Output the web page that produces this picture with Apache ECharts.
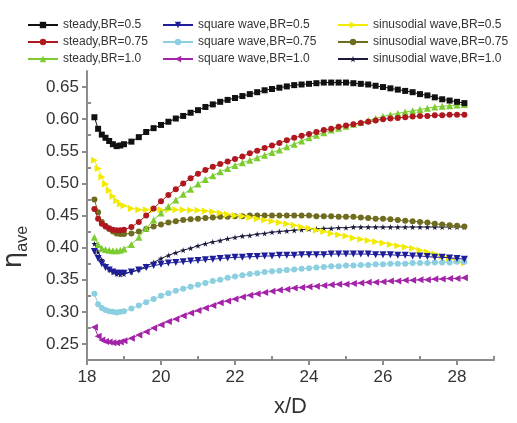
<!DOCTYPE html>
<html>
<head>
<meta charset="utf-8">
<script src="https://cdn.jsdelivr.net/npm/echarts@6/dist/echarts.min.js"></script>
<style>
  html, body { margin: 0; padding: 0; background: #fff; }
  #main { width: 517px; height: 423px; }
</style>
</head>
<body>
<div id="main"></div>
<script>
// x/D positions
var xs = [18.2, 18.3, 18.4, 18.5, 18.6, 18.7, 18.8, 18.9, 19.0,
  19.2, 19.4, 19.6, 19.8, 20.0, 20.2, 20.4, 20.6, 20.8, 21.0,
  21.2, 21.4, 21.6, 21.8, 22.0, 22.2, 22.4, 22.6, 22.8, 23.0,
  23.2, 23.4, 23.6, 23.8, 24.0, 24.2, 24.4, 24.6, 24.8, 25.0,
  25.2, 25.4, 25.6, 25.8, 26.0, 26.2, 26.4, 26.6, 26.8, 27.0,
  27.2, 27.4, 27.6, 27.8, 28.0, 28.2];

var steady05 = [0.603, 0.585, 0.576, 0.571, 0.566, 0.561, 0.558, 0.559, 0.561,
  0.565, 0.572, 0.580, 0.586, 0.591, 0.596, 0.601, 0.605, 0.610, 0.614,
  0.619, 0.623, 0.627, 0.630, 0.633, 0.636, 0.639, 0.642, 0.645, 0.647,
  0.649, 0.651, 0.653, 0.654, 0.655, 0.656, 0.657, 0.657, 0.657, 0.657,
  0.656, 0.655, 0.654, 0.652, 0.650, 0.648, 0.646, 0.644, 0.642, 0.639,
  0.637, 0.634, 0.631, 0.629, 0.627, 0.625];
var steady075 = [0.460, 0.445, 0.437, 0.433, 0.430, 0.428, 0.427, 0.427, 0.428,
  0.432, 0.440, 0.450, 0.461, 0.472, 0.482, 0.491, 0.500, 0.508, 0.515,
  0.521, 0.526, 0.530, 0.534, 0.538, 0.542, 0.547, 0.551, 0.555, 0.559,
  0.563, 0.567, 0.571, 0.574, 0.577, 0.580, 0.583, 0.585, 0.588, 0.590,
  0.592, 0.594, 0.596, 0.598, 0.600, 0.601, 0.602, 0.603, 0.604, 0.605,
  0.605, 0.606, 0.606, 0.607, 0.607, 0.607];
var steady10 = [0.416, 0.405, 0.399, 0.397, 0.396, 0.395, 0.395, 0.396, 0.398,
  0.405, 0.416, 0.430, 0.443, 0.454, 0.464, 0.474, 0.483, 0.491, 0.499,
  0.506, 0.512, 0.518, 0.523, 0.528, 0.532, 0.536, 0.540, 0.544, 0.548,
  0.552, 0.557, 0.561, 0.566, 0.571, 0.575, 0.579, 0.583, 0.586, 0.589,
  0.592, 0.595, 0.598, 0.601, 0.604, 0.607, 0.609, 0.611, 0.613, 0.615,
  0.617, 0.619, 0.620, 0.621, 0.622, 0.623];
var square05 = [0.394, 0.383, 0.375, 0.369, 0.365, 0.362, 0.360, 0.360, 0.360,
  0.362, 0.365, 0.369, 0.372, 0.374, 0.376, 0.377, 0.378, 0.379, 0.380,
  0.381, 0.382, 0.383, 0.384, 0.385, 0.385, 0.386, 0.386, 0.387, 0.387,
  0.388, 0.388, 0.388, 0.389, 0.389, 0.389, 0.389, 0.390, 0.390, 0.390,
  0.390, 0.390, 0.390, 0.389, 0.389, 0.389, 0.388, 0.388, 0.387, 0.387,
  0.386, 0.385, 0.385, 0.384, 0.383, 0.382];
var square075 = [0.328, 0.312, 0.306, 0.303, 0.301, 0.300, 0.299, 0.300, 0.301,
  0.305, 0.310, 0.315, 0.320, 0.325, 0.329, 0.333, 0.336, 0.339, 0.342,
  0.345, 0.348, 0.350, 0.353, 0.355, 0.357, 0.359, 0.360, 0.362, 0.363,
  0.364, 0.365, 0.366, 0.367, 0.368, 0.369, 0.370, 0.371, 0.371, 0.372,
  0.372, 0.373, 0.373, 0.374, 0.374, 0.375, 0.375, 0.375, 0.376, 0.376,
  0.376, 0.377, 0.377, 0.377, 0.378, 0.378];
var square10 = [0.276, 0.262, 0.256, 0.254, 0.253, 0.252, 0.252, 0.253, 0.255,
  0.259, 0.264, 0.269, 0.275, 0.280, 0.285, 0.289, 0.294, 0.298, 0.302,
  0.306, 0.310, 0.314, 0.317, 0.320, 0.323, 0.326, 0.328, 0.330, 0.332,
  0.334, 0.335, 0.337, 0.338, 0.339, 0.340, 0.341, 0.342, 0.343, 0.343,
  0.344, 0.345, 0.346, 0.346, 0.347, 0.348, 0.348, 0.349, 0.349, 0.350,
  0.350, 0.351, 0.351, 0.352, 0.352, 0.353];
var sin05 = [0.536, 0.523, 0.510, 0.499, 0.489, 0.480, 0.473, 0.468, 0.465,
  0.461, 0.459, 0.459, 0.459, 0.459, 0.459, 0.459, 0.459, 0.458, 0.458,
  0.457, 0.456, 0.454, 0.452, 0.450, 0.449, 0.447, 0.445, 0.443, 0.441,
  0.439, 0.437, 0.435, 0.432, 0.430, 0.427, 0.425, 0.422, 0.420, 0.418,
  0.415, 0.413, 0.411, 0.409, 0.407, 0.405, 0.403, 0.401, 0.399, 0.396,
  0.393, 0.390, 0.386, 0.383, 0.379, 0.376];
var sin075 = [0.475, 0.455, 0.440, 0.434, 0.429, 0.425, 0.422, 0.421, 0.421,
  0.422, 0.425, 0.429, 0.433, 0.436, 0.439, 0.441, 0.443, 0.444, 0.445,
  0.446, 0.447, 0.448, 0.448, 0.449, 0.449, 0.450, 0.450, 0.450, 0.450,
  0.450, 0.450, 0.450, 0.450, 0.450, 0.449, 0.449, 0.449, 0.448, 0.448,
  0.448, 0.447, 0.446, 0.445, 0.445, 0.444, 0.443, 0.442, 0.441, 0.440,
  0.439, 0.437, 0.436, 0.435, 0.434, 0.433];
var sin10 = [0.406, 0.393, 0.381, 0.372, 0.366, 0.362, 0.359, 0.358, 0.359,
  0.362, 0.366, 0.371, 0.377, 0.383, 0.388, 0.392, 0.396, 0.399, 0.403,
  0.406, 0.409, 0.411, 0.414, 0.416, 0.418, 0.419, 0.421, 0.422, 0.424,
  0.425, 0.426, 0.427, 0.428, 0.429, 0.429, 0.430, 0.430, 0.431, 0.431,
  0.432, 0.432, 0.432, 0.432, 0.432, 0.432, 0.432, 0.432, 0.432, 0.432,
  0.432, 0.432, 0.432, 0.432, 0.432, 0.432];

var xMajor = [18, 20, 22, 24, 26, 28];
var xMinor = [19, 21, 23, 25, 27, 29];
var yMajor = [0.25, 0.30, 0.35, 0.40, 0.45, 0.50, 0.55, 0.60, 0.65];
var yMinor = [0.275, 0.325, 0.375, 0.425, 0.475, 0.525, 0.575, 0.625];

var starPath = 'path://M50,0 L61,35 L98,35 L68,57 L79,91 L50,70 L21,91 L32,57 L2,35 L39,35 Z';

var names = [
  'steady,BR=0.5', 'steady,BR=0.75', 'steady,BR=1.0',
  'square wave,BR=0.5', 'square wave,BR=0.75', 'square wave,BR=1.0',
  'sinusodial wave,BR=0.5', 'sinusodial wave,BR=0.75', 'sinusodial wave,BR=1.0'
];
var seriesVals = [steady05, steady075, steady10, square05, square075, square10, sin05, sin075, sin10];
var colors = ['#111111', '#b01820', '#7ccc30', '#1e1e9a', '#8ccfe0', '#a324a8', '#f2ea00', '#6e6c1e', '#1a1a3c'];
var symbols = ['rect', 'circle', 'triangle', 'triangle', 'circle', 'triangle', 'triangle', 'circle', starPath];
var rotates = [0, 0, 0, 180, 0, 90, -90, 0, 0];
var sizes = [6, 6, 7, 7, 6, 7, 7, 6, 6];

var chart = echarts.init(document.getElementById('main'));

var series = names.map(function (n, k) {
  return {
    name: n,
    type: 'line',
    xAxisIndex: 0,
    yAxisIndex: 0,
    data: xs.map(function (x, i) { return [x, seriesVals[k][i]]; }),
    symbol: symbols[k],
    symbolRotate: rotates[k],
    symbolSize: sizes[k],
    showAllSymbol: true,
    itemStyle: { color: colors[k] },
    lineStyle: { color: colors[k], width: 1 },
    z: 10 - k
  };
});

var legendBase = {
  orient: 'vertical',
  top: 14,
  itemWidth: 30,
  itemHeight: 8,
  itemGap: 5,
  textStyle: { fontSize: 12, color: '#333', fontFamily: 'Liberation Sans, Arial' }
};

var axisLineStyle = { color: '#8c8c8c', width: 2 };
var tickFont = { fontSize: 17, color: '#333', fontFamily: 'Liberation Sans, Arial' };

var option = {
  animation: false,
  backgroundColor: '#fff',
  legend: [
    Object.assign({ left: 22, data: names.slice(0, 3) }, legendBase),
    Object.assign({ left: 157, data: names.slice(3, 6) }, legendBase),
    Object.assign({ left: 332, data: names.slice(6, 9) }, legendBase)
  ],
  grid: { left: 87, right: 23, top: 71, bottom: 47, containLabel: false },
  xAxis: [
    {
      type: 'value', min: 18, max: 29,
      axisLine: { lineStyle: axisLineStyle },
      axisTick: { customValues: xMajor, length: 5, lineStyle: axisLineStyle },
      axisLabel: { customValues: xMajor, margin: 9, ...tickFont },
      splitLine: { show: false },
      name: 'x/D', nameLocation: 'middle', nameGap: 36,
      nameTextStyle: { fontSize: 22, color: '#333', fontFamily: 'Liberation Sans, Arial' }
    },
    {
      type: 'value', min: 18, max: 29, position: 'bottom',
      axisLine: { show: false },
      axisTick: { customValues: xMinor, inside: true, length: 4, lineStyle: axisLineStyle },
      axisLabel: { show: false },
      splitLine: { show: false }
    }
  ],
  yAxis: [
    {
      type: 'value', min: 0.225, max: 0.675,
      axisLine: { show: true, lineStyle: axisLineStyle },
      axisTick: { show: true, customValues: yMajor, length: 5, lineStyle: axisLineStyle },
      axisLabel: {
        customValues: yMajor, margin: 8, ...tickFont,
        formatter: function (v) { return v.toFixed(2); }
      },
      splitLine: { show: false }
    },
    {
      type: 'value', min: 0.225, max: 0.675, position: 'left',
      axisLine: { show: false },
      axisTick: { show: true, customValues: yMinor, inside: true, length: 4, lineStyle: axisLineStyle },
      axisLabel: { show: false },
      splitLine: { show: false }
    }
  ],
  graphic: [
    {
      type: 'text',
      x: 14, y: 247,
      rotation: Math.PI / 2,
      style: {
        text: '{e|η}{s|ave}',
        rich: {
          e: { fontSize: 26, fill: '#333', fontFamily: 'DejaVu Sans', verticalAlign: 'bottom' },
          s: { fontSize: 16, fill: '#333', fontFamily: 'Liberation Sans, Arial', verticalAlign: 'bottom', padding: [0, 0, -4, 0] }
        },
        align: 'center',
        verticalAlign: 'middle'
      }
    }
  ],
  series: series
};

chart.setOption(option);
</script>
</body>
</html>
